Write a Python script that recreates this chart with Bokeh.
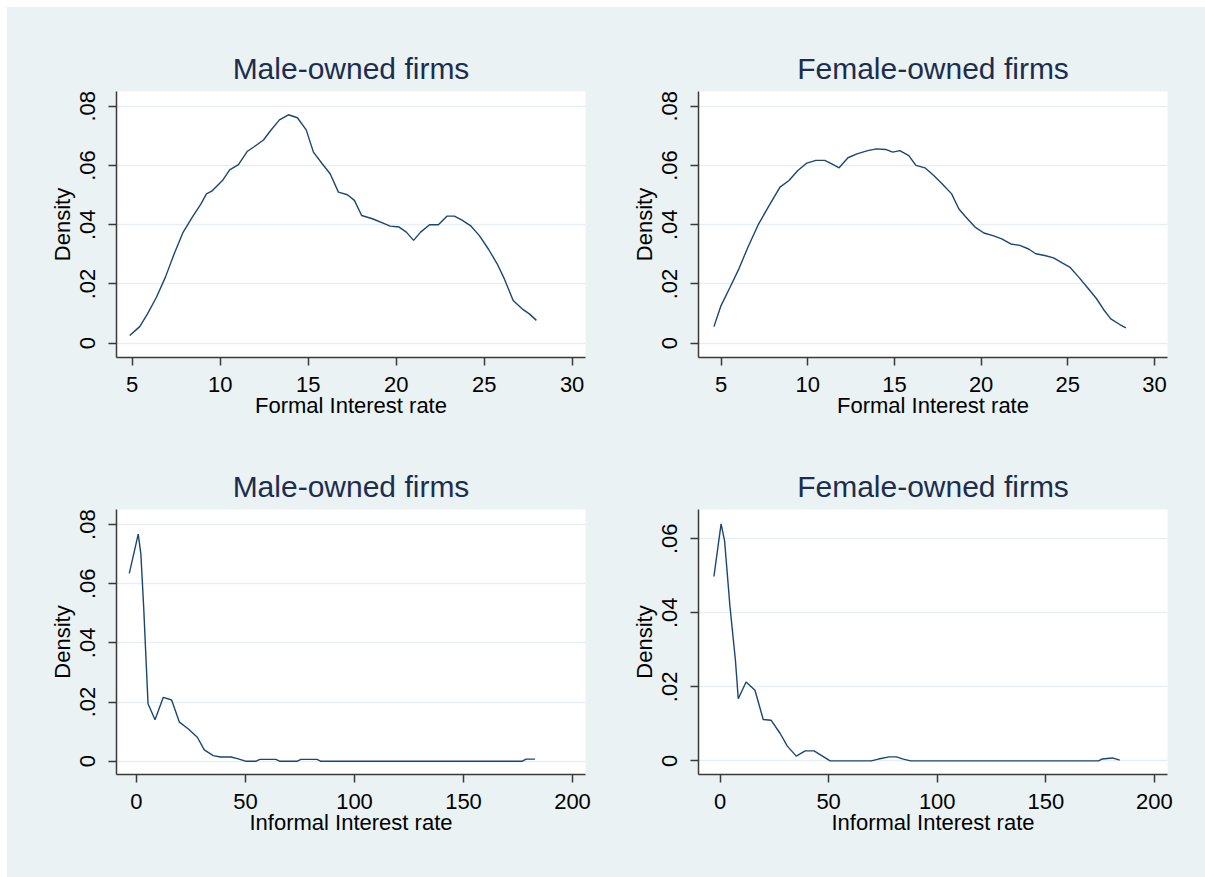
from bokeh.plotting import figure
from bokeh.layouts import gridplot
from bokeh.models import Range1d, FixedTicker, CustomJSTickFormatter
from bokeh.embed import file_html
from bokeh.resources import INLINE

# ---- data ----
male_formal_x = [4.86, 5.22, 5.43, 5.87, 6.38, 6.89, 7.39, 7.90, 8.41, 8.91, 9.22, 9.52, 10.13, 10.54,
                 11.04, 11.55, 11.95, 12.46, 12.87, 13.37, 13.88, 14.39, 14.89, 15.30, 15.81, 16.25,
                 16.72, 17.23, 17.63, 18.04, 18.65, 19.26, 19.66, 20.17, 20.58, 20.99, 21.39, 21.90,
                 22.40, 22.90, 23.31, 23.72, 24.22, 24.73, 25.24, 25.74, 26.15, 26.65, 27.16, 27.57, 27.97]
male_formal_y = [0.0026, 0.0045, 0.0056, 0.0099, 0.0155, 0.0223, 0.0302, 0.0375, 0.0425, 0.0470, 0.0504,
                 0.0513, 0.0549, 0.0585, 0.0603, 0.0648, 0.0664, 0.0686, 0.0718, 0.0754, 0.0771, 0.0761,
                 0.0720, 0.0645, 0.0605, 0.0572, 0.0510, 0.0501, 0.0482, 0.0431, 0.0420, 0.0405, 0.0395,
                 0.0392, 0.0375, 0.0347, 0.0375, 0.0400, 0.0400, 0.0429, 0.0429, 0.0416, 0.0397, 0.0363,
                 0.0318, 0.0268, 0.0217, 0.0144, 0.0116, 0.0099, 0.0077]

female_formal_x = [4.59, 5.00, 5.52, 6.03, 6.55, 7.17, 7.78, 8.40, 8.92, 9.43, 9.95, 10.47, 10.98, 11.39,
                   11.81, 12.32, 12.84, 13.46, 13.97, 14.49, 14.90, 15.31, 15.83, 16.24, 16.76, 17.27,
                   17.79, 18.30, 18.72, 19.13, 19.65, 20.16, 20.68, 21.19, 21.71, 22.23, 22.74, 23.15,
                   23.67, 24.18, 24.70, 25.11, 25.63, 26.14, 26.66, 27.07, 27.48, 28.00, 28.35]
female_formal_y = [0.0056, 0.0127, 0.0189, 0.0251, 0.0324, 0.0403, 0.0465, 0.0527, 0.0549, 0.0583, 0.0608,
                   0.0617, 0.0617, 0.0605, 0.0592, 0.0626, 0.0639, 0.0650, 0.0656, 0.0654, 0.0645, 0.0650,
                   0.0633, 0.0600, 0.0592, 0.0566, 0.0536, 0.0504, 0.0453, 0.0425, 0.0392, 0.0372, 0.0363,
                   0.0352, 0.0335, 0.0330, 0.0318, 0.0302, 0.0296, 0.0288, 0.0270, 0.0257, 0.0223, 0.0187,
                   0.0150, 0.0113, 0.0082, 0.0063, 0.0052]

male_informal_x = [-3.3, 0.8, 2.0, 3.3, 4.4, 5.3, 8.5, 12.3, 16.1, 19.7, 23.8, 27.9, 31.1, 35.2, 38.5,
                   43.4, 46.7, 50.0, 54.9, 56.6, 63.9, 65.6, 73.8, 75.4, 82.8, 84.4, 177.0, 178.7, 182.8]
male_informal_y = [0.0635, 0.0768, 0.0701, 0.0520, 0.0340, 0.0194, 0.0140, 0.0216, 0.0207, 0.0132, 0.0109,
                   0.0081, 0.0038, 0.0019, 0.0014, 0.0014, 0.0008, 0.0, 0.0, 0.0006, 0.0006, 0.0, 0.0,
                   0.0006, 0.0006, 0.0, 0.0, 0.0007, 0.0007]

female_informal_x = [-2.8, 0.5, 2.1, 4.6, 7.1, 8.4, 12.0, 16.1, 19.9, 23.5, 27.7, 31.0, 35.1, 39.2, 43.3,
                     46.6, 50.7, 69.6, 72.9, 77.9, 81.2, 84.4, 87.7, 174.2, 175.8, 180.7, 184.0]
female_informal_y = [0.0498, 0.0640, 0.0595, 0.0416, 0.0272, 0.0168, 0.0213, 0.0191, 0.0112, 0.0110, 0.0074,
                     0.0040, 0.0013, 0.0027, 0.0027, 0.0015, 0.0, 0.0, 0.0005, 0.0011, 0.0011, 0.0005, 0.0,
                     0.0, 0.0005, 0.0008, 0.0002]

titles = ["Male-owned firms", "Female-owned firms", "Male-owned firms", "Female-owned firms"]
x_labels = ["Formal Interest rate", "Formal Interest rate", "Informal Interest rate", "Informal Interest rate"]
y_label = "Density"
formal_ticks = [5, 10, 15, 20, 25, 30]
informal_ticks = [0, 50, 100, 150, 200]
density_ticks_a = [0, 0.02, 0.04, 0.06, 0.08]
density_ticks_b = [0, 0.02, 0.04, 0.06]

BG = "#EAF2F3"
LINE = "#1A476F"
FONT = "Liberation Sans"


def panel(title, xs, ys, xlab, xticks, yticks, xr, yr, width, height, bl, br, bt, bb):
    p = figure(width=width, height=height, title=title, output_backend="svg", toolbar_location=None,
               x_range=Range1d(*xr), y_range=Range1d(*yr),
               min_border_left=bl, min_border_right=br, min_border_top=bt, min_border_bottom=bb)
    p.background_fill_color = "white"
    p.border_fill_color = BG
    p.outline_line_color = None
    p.title.align = "center"
    p.title.text_font = FONT
    p.title.text_font_size = "30px"
    p.title.text_font_style = "normal"
    p.title.text_color = "#1C2D4F"
    p.title.standoff = 13
    p.line(xs, ys, line_color=LINE, line_width=1.4)

    p.xaxis.ticker = FixedTicker(ticks=xticks)
    p.yaxis.ticker = FixedTicker(ticks=yticks)
    p.yaxis.formatter = CustomJSTickFormatter(
        code="return tick == 0 ? '0' : tick.toFixed(2).replace(/^0/, '');")
    p.xaxis.axis_label = xlab
    p.yaxis.axis_label = y_label
    p.yaxis.major_label_orientation = "parallel"
    for ax in (p.xaxis, p.yaxis):
        ax.axis_line_color = "#3a3a3a"
        ax.axis_line_width = 1.5
        ax.major_tick_line_color = "#3a3a3a"
        ax.major_tick_line_width = 1.5
        ax.major_tick_out = 8
        ax.major_tick_in = 0
        ax.minor_tick_line_color = None
        ax.major_label_text_font = FONT
        ax.major_label_text_font_size = "22px"
        ax.major_label_text_color = "black"
        ax.axis_label_text_font = FONT
        ax.axis_label_text_font_size = "22px"
        ax.axis_label_text_font_style = "normal"
        ax.axis_label_text_color = "black"
    p.xaxis.major_label_standoff = 11
    p.yaxis.major_label_standoff = 13
    p.xaxis.axis_label_standoff = -2
    p.yaxis.axis_label_standoff = 3
    p.xgrid.grid_line_color = None
    p.ygrid.grid_line_color = "#E6EFF1"
    p.ygrid.grid_line_width = 1.5
    return p


p1 = panel(titles[0], male_formal_x, male_formal_y, x_labels[0], formal_ticks, density_ticks_a,
           (4.11, 30.76), (-0.00483, 0.08496), 591, 431, 109, 13, 84, 81)
p2 = panel(titles[1], female_formal_x, female_formal_y, x_labels[1], formal_ticks, density_ticks_a,
           (3.70, 30.75), (-0.00483, 0.08496), 607, 431, 100, 38, 84, 81)
p3 = panel(titles[2], male_informal_x, male_informal_y, x_labels[2], informal_ticks, density_ticks_a,
           (-9.17, 205.96), (-0.0045, 0.0851), 591, 439, 109, 13, 71, 103)
p4 = panel(titles[3], female_informal_x, female_informal_y, x_labels[3], informal_ticks, density_ticks_b,
           (-9.9, 206.0), (-0.00367, 0.0679), 607, 439, 100, 38, 71, 103)

grid = gridplot([[p1, p2], [p3, p4]], toolbar_location=None)
grid.margin = (7, 0, 0, 7)
grid.styles = {"background-color": BG}

open("out.html", "w").write(file_html(grid, INLINE))
